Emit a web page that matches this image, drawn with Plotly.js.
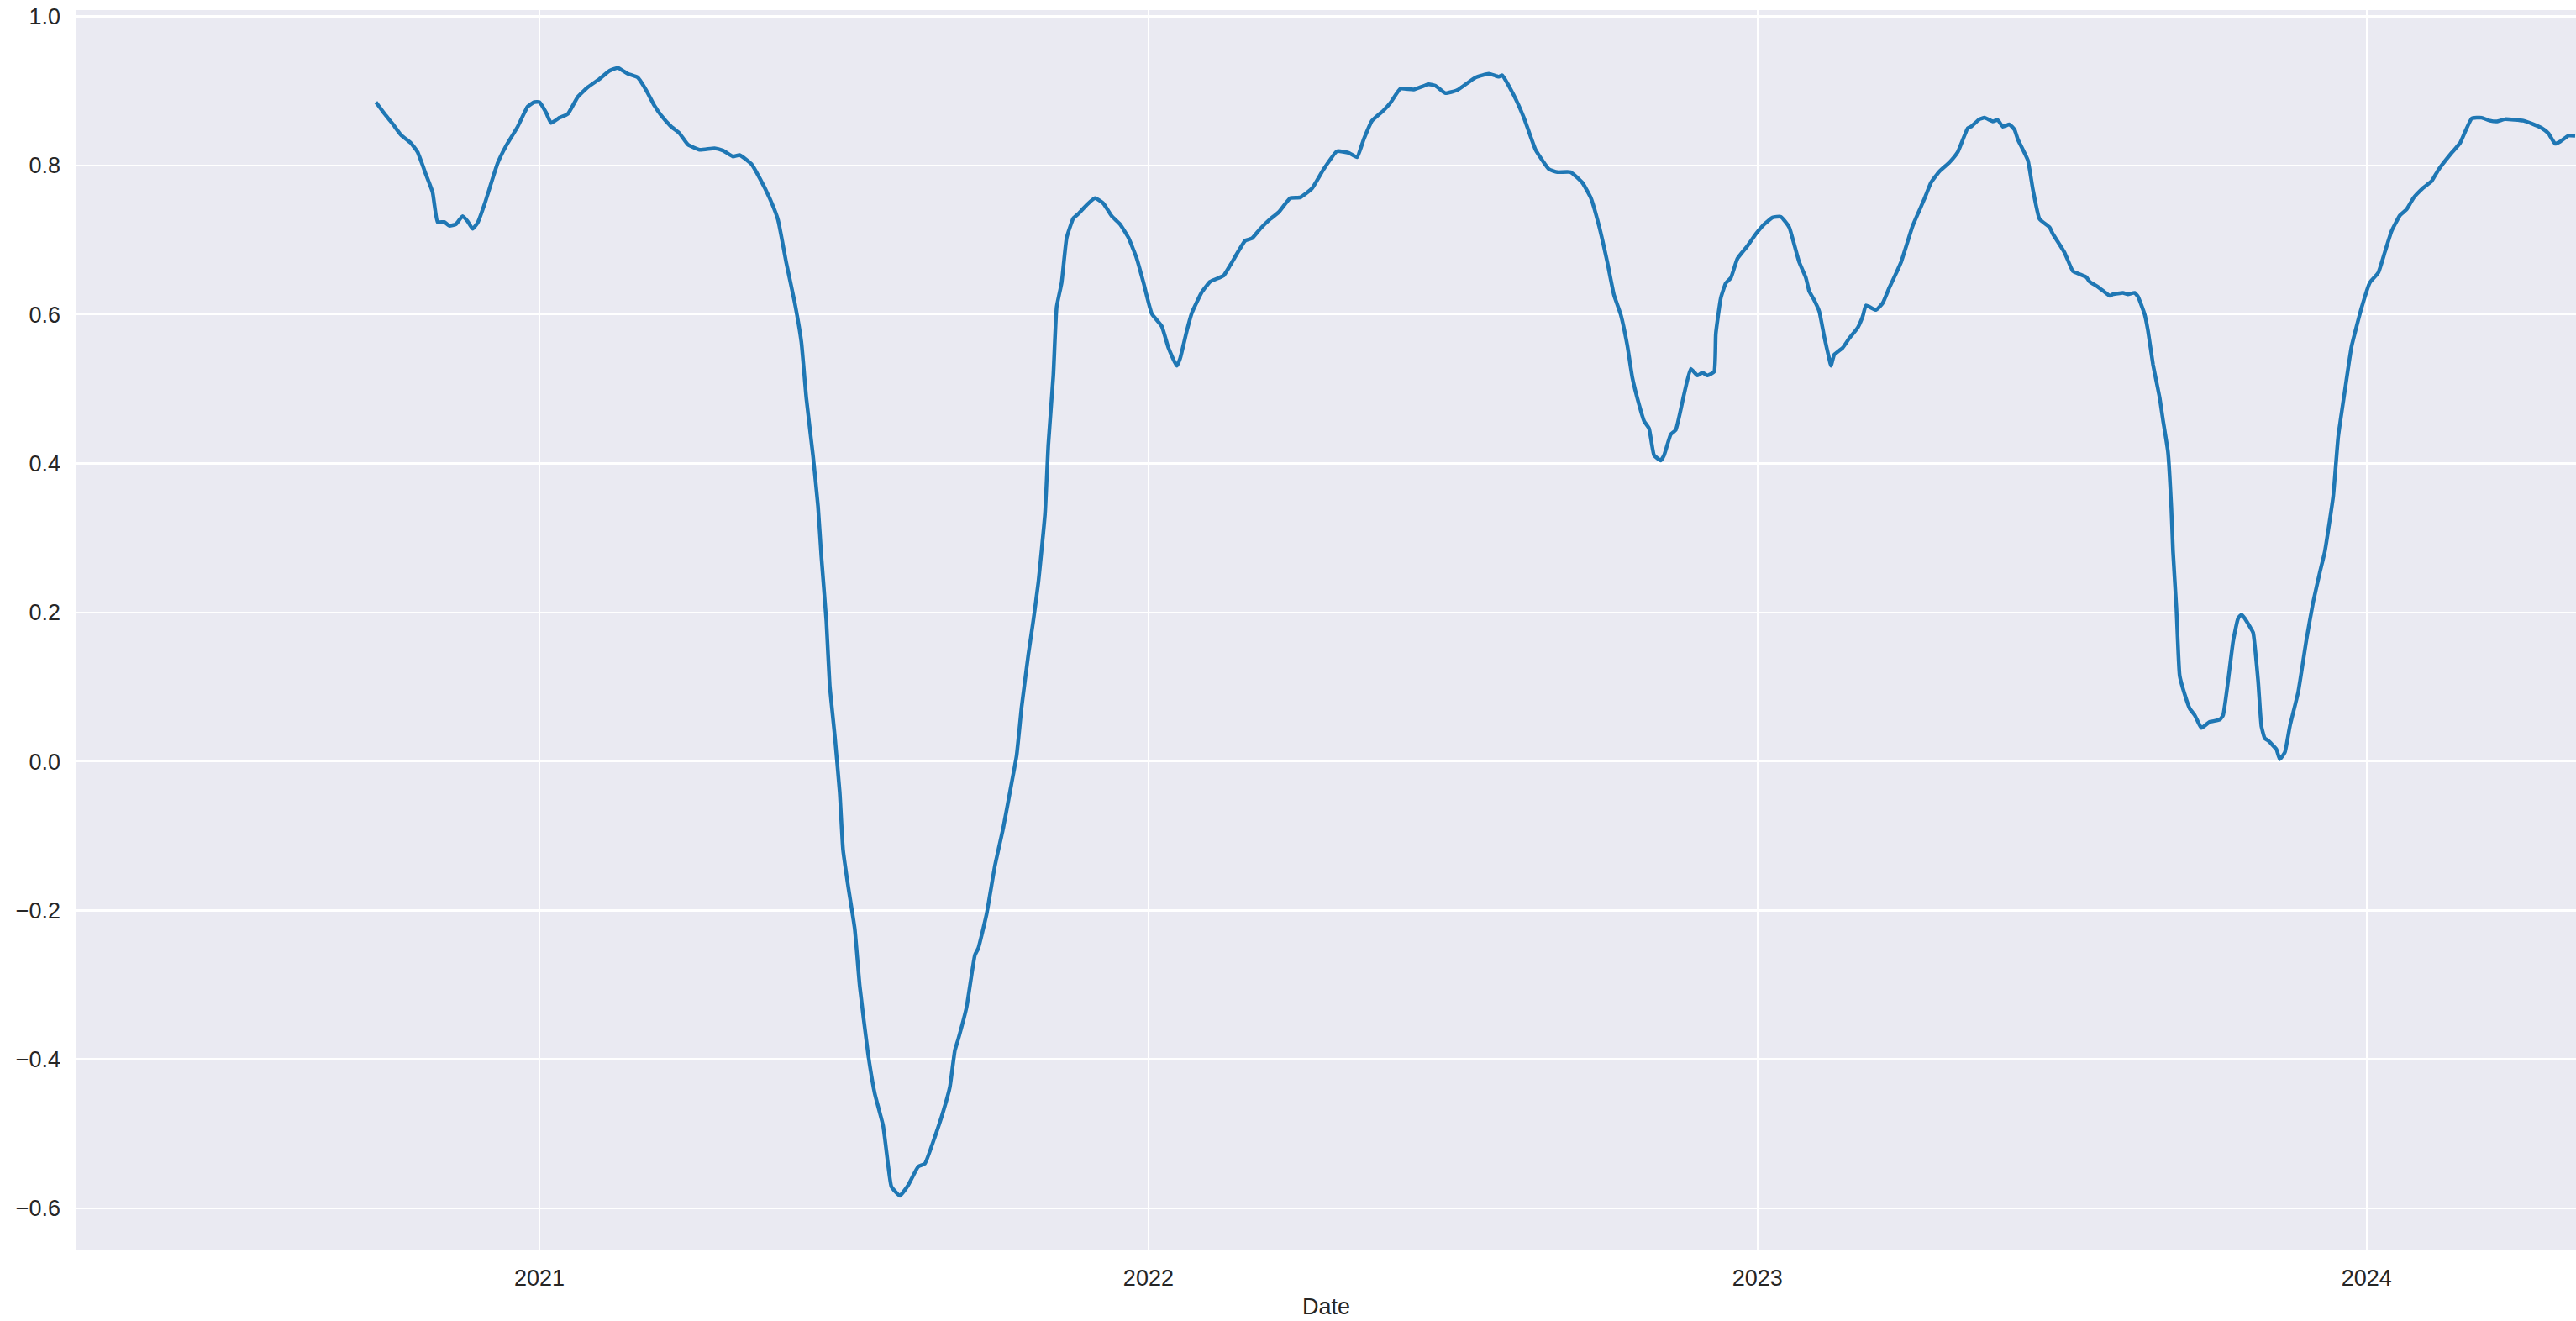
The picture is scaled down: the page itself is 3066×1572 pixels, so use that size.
<!DOCTYPE html>
<html>
<head>
<meta charset="utf-8">
<script src="https://cdn.plot.ly/plotly-3.0.1.min.js"></script>
<style>
html, body { margin: 0; padding: 0; background: #ffffff; }
#chart { width: 3066px; height: 1572px; }
</style>
</head>
<body>
<div id="chart"></div>
<script>
const dates = [
"2020-09-25","2020-10-01","2020-10-05","2020-10-10","2020-10-16","2020-10-20","2020-10-25","2020-10-29",
"2020-11-01","2020-11-05","2020-11-08","2020-11-12","2020-11-16","2020-11-19","2020-11-22","2020-11-25","2020-11-29",
"2020-12-07","2020-12-12","2020-12-19","2020-12-25","2020-12-29",
"2021-01-01","2021-01-05","2021-01-08","2021-01-13","2021-01-18","2021-01-24","2021-01-30",
"2021-02-06","2021-02-12","2021-02-17","2021-02-23",
"2021-03-01","2021-03-06","2021-03-11","2021-03-15","2021-03-21","2021-03-26","2021-03-31",
"2021-04-07","2021-04-16","2021-04-21","2021-04-27",
"2021-05-01","2021-05-08","2021-05-13","2021-05-19","2021-05-24","2021-05-29",
"2021-06-03","2021-06-07","2021-06-10","2021-06-14","2021-06-17","2021-06-19","2021-06-22","2021-06-24","2021-06-27","2021-06-30",
"2021-07-02","2021-07-05","2021-07-09","2021-07-12","2021-07-17","2021-07-21","2021-07-26","2021-07-29","2021-07-31",
"2021-08-05","2021-08-10","2021-08-16","2021-08-20","2021-08-26","2021-08-31",
"2021-09-04","2021-09-07","2021-09-09","2021-09-14","2021-09-19","2021-09-21","2021-09-26",
"2021-10-01","2021-10-06","2021-10-11","2021-10-14","2021-10-17","2021-10-21","2021-10-24","2021-10-27","2021-10-31",
"2021-11-02","2021-11-05","2021-11-07","2021-11-10","2021-11-13","2021-11-17","2021-11-20","2021-11-25","2021-11-30",
"2021-12-05","2021-12-10","2021-12-15","2021-12-20","2021-12-25","2021-12-29",
"2022-01-03","2022-01-09","2022-01-13","2022-01-18","2022-01-20","2022-01-24","2022-01-27",
"2022-02-02","2022-02-07","2022-02-15","2022-02-19","2022-02-28",
"2022-03-04","2022-03-09","2022-03-15","2022-03-20","2022-03-27",
"2022-04-02","2022-04-09","2022-04-16","2022-04-24",
"2022-05-01","2022-05-06","2022-05-10","2022-05-15","2022-05-22","2022-05-26",
"2022-06-01","2022-06-09","2022-06-18","2022-06-22","2022-06-28",
"2022-07-05","2022-07-16","2022-07-24","2022-07-30",
"2022-08-01","2022-08-08","2022-08-14","2022-08-21","2022-08-29",
"2022-09-03","2022-09-11","2022-09-18","2022-09-23","2022-09-28",
"2022-10-03","2022-10-07","2022-10-11","2022-10-15","2022-10-18","2022-10-22","2022-10-25","2022-10-28","2022-10-31",
"2022-11-04","2022-11-06","2022-11-10","2022-11-13","2022-11-18","2022-11-22","2022-11-26","2022-11-29",
"2022-12-02","2022-12-06","2022-12-07","2022-12-10","2022-12-13","2022-12-16","2022-12-20","2022-12-26","2022-12-31",
"2023-01-05","2023-01-10","2023-01-15","2023-01-20","2023-01-23","2023-01-26","2023-01-30",
"2023-02-01","2023-02-04","2023-02-07","2023-02-10","2023-02-13","2023-02-14","2023-02-16","2023-02-21","2023-02-25",
"2023-03-02","2023-03-05","2023-03-07","2023-03-13","2023-03-17","2023-03-21","2023-03-25","2023-03-28",
"2023-04-01","2023-04-04","2023-04-11","2023-04-15","2023-04-20","2023-04-26",
"2023-05-01","2023-05-07","2023-05-09","2023-05-14","2023-05-17","2023-05-22","2023-05-25","2023-05-28",
"2023-06-01","2023-06-04","2023-06-06","2023-06-12","2023-06-15","2023-06-19","2023-06-25","2023-06-27",
"2023-07-04","2023-07-09","2023-07-13","2023-07-17","2023-07-19","2023-07-24","2023-07-28","2023-07-31",
"2023-08-02","2023-08-08","2023-08-11","2023-08-15","2023-08-17","2023-08-21","2023-08-23","2023-08-26","2023-08-30",
"2023-09-01","2023-09-04","2023-09-06","2023-09-07","2023-09-09","2023-09-11","2023-09-14","2023-09-17","2023-09-20","2023-09-22","2023-09-24","2023-09-29",
"2023-10-05","2023-10-07","2023-10-10","2023-10-13","2023-10-16","2023-10-18","2023-10-20","2023-10-23","2023-10-25","2023-10-28","2023-10-30",
"2023-11-01","2023-11-03","2023-11-08","2023-11-10","2023-11-13","2023-11-16","2023-11-21","2023-11-26","2023-11-30",
"2023-12-04","2023-12-07","2023-12-12","2023-12-15","2023-12-19","2023-12-23","2023-12-29",
"2024-01-03","2024-01-08","2024-01-12","2024-01-16","2024-01-21","2024-01-25","2024-01-29",
"2024-02-04","2024-02-09","2024-02-13","2024-02-21","2024-02-26","2024-02-29",
"2024-03-04","2024-03-07","2024-03-10","2024-03-15","2024-03-19","2024-03-24",
"2024-04-04","2024-04-09","2024-04-15","2024-04-19","2024-04-23","2024-04-26",
"2024-05-01","2024-05-05"
];

const correlation = [
0.885,0.867,0.856,0.841,0.830,0.818,0.788,0.764,
0.724,0.724,0.719,0.721,0.732,0.725,0.715,0.723,0.747,
0.803,0.826,0.852,0.879,0.885,
0.885,0.871,0.857,0.864,0.869,0.892,0.905,
0.916,0.927,0.931,0.923,
0.918,0.901,0.880,0.867,0.852,0.843,0.828,
0.821,0.823,0.820,0.812,
0.814,0.802,0.783,0.756,0.727,0.669,
0.616,0.563,0.487,0.410,0.342,0.275,0.188,0.102,0.035,-0.042,
-0.119,-0.167,-0.225,-0.302,-0.393,-0.446,-0.489,-0.542,-0.571,
-0.583,-0.569,-0.544,-0.540,-0.504,-0.470,
-0.437,-0.388,-0.373,-0.330,-0.260,-0.251,-0.205,
-0.140,-0.089,-0.029,0.008,0.073,0.143,0.189,0.240,0.332,
0.425,0.518,0.610,0.643,0.703,0.729,0.735,0.747,0.756,
0.749,0.732,0.721,0.703,0.675,0.643,
0.601,0.584,0.555,0.531,0.541,0.578,0.602,
0.630,0.644,0.652,0.666,0.699,
0.702,0.715,0.728,0.737,0.756,
0.757,0.769,0.795,0.819,
0.817,0.811,0.835,0.860,0.874,0.884,
0.903,0.902,0.909,0.907,0.897,
0.901,0.918,0.923,0.919,
0.921,0.894,0.864,0.821,0.795,
0.791,0.791,0.777,0.757,0.719,
0.670,0.626,0.600,0.558,0.515,0.479,0.457,0.447,0.411,
0.404,0.411,0.439,0.445,0.493,0.527,0.518,0.522,
0.518,0.523,0.574,0.622,0.642,0.649,0.675,0.692,0.708,
0.721,0.730,0.731,0.717,0.694,0.670,0.649,
0.631,0.619,0.604,0.570,0.540,0.531,0.546,0.555,0.568,
0.582,0.597,0.612,0.606,0.615,0.636,0.655,0.670,
0.698,0.719,0.755,0.777,0.792,0.804,
0.818,0.850,0.852,0.862,0.864,0.859,0.861,0.852,
0.855,0.848,0.835,0.807,0.768,0.728,0.717,0.708,
0.683,0.658,0.654,0.650,0.644,0.637,0.630,0.625,
0.627,0.629,0.627,0.629,0.624,0.600,0.578,0.533,0.488,
0.458,0.415,0.340,0.282,0.207,0.115,0.090,0.071,0.062,0.053,0.045,0.053,
0.056,0.062,0.108,0.161,0.192,0.197,0.192,0.181,0.173,0.108,0.047,
0.031,0.028,0.016,0.003,0.012,0.047,0.093,0.164,0.214,
0.254,0.282,0.356,0.436,0.498,0.557,0.609,
0.643,0.656,0.684,0.712,0.733,0.741,0.756,
0.770,0.779,0.794,0.817,0.830,0.845,
0.863,0.864,0.864,0.860,0.859,0.862,
0.860,0.856,0.850,0.843,0.829,0.832,
0.840,0.840
];

const xTickVals = ["2021-01-01","2022-01-01","2023-01-01","2024-01-01"];
const xTickText = ["2021","2022","2023","2024"];
const yTickVals = [-0.6,-0.4,-0.2,0.0,0.2,0.4,0.6,0.8,1.0];
const yTickText = ["\u22120.6","\u22120.4","\u22120.2","0.0","0.2","0.4","0.6","0.8","1.0"];
const xAxisTitle = "Date";

const fontFamily = "Liberation Sans, Arial, Helvetica, sans-serif";
const textColor = "#262626";

const trace = {
  type: "scatter",
  mode: "lines",
  x: dates,
  y: correlation,
  line: { color: "#1f77b4", width: 4.5, shape: "spline", smoothing: 0.4 },
  hoverinfo: "x+y",
  showlegend: false
};

const layout = {
  width: 3066,
  height: 1572,
  paper_bgcolor: "#ffffff",
  plot_bgcolor: "#EAEAF2",
  margin: { l: 91, r: 0, t: 12, b: 84, pad: 0 },
  font: { family: fontFamily, size: 27, color: textColor },
  showlegend: false,
  xaxis: {
    type: "date",
    range: ["2020-03-29 14:00", "2024-05-05 12:00"],
    tickvals: xTickVals,
    ticktext: xTickText,
    showgrid: true,
    gridcolor: "#ffffff",
    gridwidth: 2.4,
    zeroline: false,
    showline: false,
    ticks: "",
    ticklabelstandoff: 14,
    tickfont: { family: fontFamily, size: 27, color: textColor },
    title: { text: xAxisTitle, font: { family: fontFamily, size: 27, color: textColor }, standoff: 10 },
    automargin: false
  },
  yaxis: {
    range: [-0.6564, 1.0085],
    tickvals: yTickVals,
    ticktext: yTickText,
    showgrid: true,
    gridcolor: "#ffffff",
    gridwidth: 2.4,
    zeroline: false,
    showline: false,
    ticks: "",
    ticklabelstandoff: 18,
    tickfont: { family: fontFamily, size: 27, color: textColor },
    automargin: false
  }
};

Plotly.newPlot("chart", [trace], layout, { displayModeBar: false, staticPlot: true });
</script>
</body>
</html>
